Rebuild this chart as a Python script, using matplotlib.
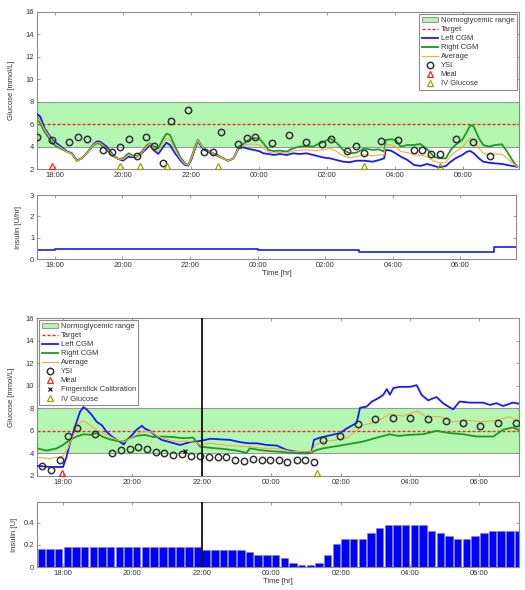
import matplotlib
matplotlib.use('Agg')
import matplotlib.pyplot as plt
import numpy as np
from matplotlib.ticker import FuncFormatter, MultipleLocator
from matplotlib.patches import Patch
from matplotlib.lines import Line2D

plt.rcParams['font.family'] = ['Liberation Sans', 'DejaVu Sans']
plt.rcParams['font.size'] = 5.5

# ---- night 1: glucose traces (hours since midnight of first day) ----
t1_cgm = [17.47, 17.56, 17.70, 17.92, 18.05, 18.34, 18.50, 18.64, 18.78, 18.93,
          19.13, 19.23, 19.32, 19.52, 19.72, 19.86, 20.00, 20.16, 20.25, 20.40,
          20.55, 20.70, 20.79, 20.89, 21.04, 21.19, 21.28, 21.38, 21.53, 21.68,
          21.82, 21.92, 22.02, 22.12, 22.20, 22.36, 22.56, 22.75, 22.95, 23.10,
          23.25, 23.40, 23.54, 23.69, 23.84, 24.00, 24.13, 24.28, 24.43, 24.62,
          24.82, 25.00, 25.20, 25.40, 25.60, 25.79, 25.94, 26.09, 26.28, 26.48,
          26.67, 26.87, 27.10, 27.34, 27.53, 27.68, 27.73, 27.88, 28.02, 28.17,
          28.37, 28.56, 28.75, 28.95, 29.15, 29.30, 29.50, 29.64, 29.78, 29.98,
          30.12, 30.22, 30.32, 30.47, 30.60, 30.76, 30.95, 31.15, 31.30, 31.45,
          31.60]
left1 = [6.9, 6.7, 5.6, 4.6, 4.3, 3.6, 3.4, 2.75, 2.95, 3.4,
         4.2, 4.45, 4.45, 4.0, 3.2, 2.9, 2.75, 3.1, 3.05, 3.1,
         3.4, 3.85, 4.2, 3.7, 3.35, 4.0, 4.35, 4.14, 3.4, 2.8,
         2.36, 2.3, 2.9, 3.8, 4.5, 3.75, 3.46, 3.3, 2.95, 2.74,
         2.95, 3.84, 3.93, 3.8, 3.7, 3.6, 3.4, 3.34, 3.25, 3.34,
         3.25, 3.4, 3.34, 3.4, 3.25, 3.1, 3.0, 2.95, 2.8, 2.65,
         2.6, 2.74, 2.74, 2.65, 2.8, 2.95, 3.7, 3.64, 3.4, 3.1,
         2.8, 2.36, 2.27, 2.45, 2.27, 2.15, 2.27, 2.65, 2.95, 3.25,
         3.55, 3.6, 3.4, 2.95, 2.65, 2.56, 2.5, 2.45, 2.36, 2.27,
         2.2]
right1 = [6.7, 6.1, 5.3, 4.3, 4.0, 3.55, 3.35, 2.7, 2.95, 3.4,
          4.1, 4.3, 4.25, 3.7, 3.1, 2.9, 2.95, 3.4, 3.25, 3.1,
          3.55, 4.1, 4.3, 4.05, 3.85, 4.75, 5.15, 5.05, 4.0, 3.1,
          2.5, 2.36, 3.1, 4.0, 4.6, 3.9, 3.55, 3.2, 2.95, 2.74,
          2.95, 4.0, 4.23, 4.6, 4.74, 4.74, 4.3, 3.7, 3.6, 3.64,
          3.55, 3.84, 4.0, 4.05, 4.0, 4.3, 4.45, 4.74, 4.35, 3.7,
          3.4, 3.46, 3.84, 3.7, 3.75, 3.55, 4.59, 4.65, 4.59, 4.0,
          4.14, 4.14, 4.23, 3.75, 3.1, 2.95, 2.95, 3.7, 4.14, 4.59,
          5.33, 5.93, 5.78, 4.74, 4.14, 4.0, 4.14, 4.2, 3.55, 2.8,
          2.2]
avg1 = [6.5, 6.3, 5.5, 4.5, 4.15, 3.55, 3.35, 2.7, 2.95, 3.4,
        4.15, 4.35, 4.35, 3.85, 3.15, 2.9, 2.85, 3.25, 3.15, 3.1,
        3.45, 4.0, 4.25, 3.9, 3.6, 4.4, 4.75, 4.6, 3.7, 2.95,
        2.43, 2.33, 3.0, 3.9, 4.55, 3.85, 3.5, 3.25, 2.95, 2.74,
        2.95, 3.92, 4.08, 4.2, 4.22, 4.17, 3.85, 3.52, 3.42, 3.49,
        3.4, 3.62, 3.67, 3.72, 3.62, 3.7, 3.72, 3.85, 3.57, 3.17,
        3.0, 3.1, 3.29, 3.17, 3.27, 3.25, 4.15, 4.15, 4.0, 3.55,
        3.47, 3.25, 3.25, 3.1, 2.69, 2.55, 2.61, 3.17, 3.55, 3.92,
        4.44, 4.76, 4.59, 3.85, 3.4, 3.28, 3.32, 3.33, 2.96, 2.54,
        2.2]
t1_ysi = [17.47, 17.92, 18.42, 18.69, 18.93, 19.40, 19.67, 19.91, 20.17, 20.41,
          20.67, 20.90, 21.17, 21.40, 21.90, 22.39, 22.64, 22.88, 23.37, 23.64,
          23.88, 24.39, 24.87, 25.37, 25.85, 26.11, 26.60, 26.85, 27.10, 27.59,
          28.09, 28.57, 28.81, 29.07, 29.32, 29.81, 30.31, 30.79]
ysi1 = [4.88, 4.59, 4.38, 4.88, 4.70, 3.72, 3.52, 3.93, 4.70, 3.16,
        4.88, 4.05, 2.54, 6.25, 7.26, 3.52, 3.52, 5.27, 4.23, 4.77,
        4.88, 4.35, 5.03, 4.38, 4.23, 4.70, 3.63, 4.05, 3.40, 4.47,
        4.56, 3.72, 3.72, 3.34, 3.34, 4.70, 4.41, 3.16]
t1_meal = [17.92]
t1_iv = [19.91, 20.49, 21.30, 22.80, 27.10, 29.32]
basal_t = [17.47, 18.0, 24.0, 27.0, 31.0, 31.65]
basal_rate = [0.4, 0.45, 0.4, 0.35, 0.55]

# ---- night 2 ----
t2_left = [17.25, 17.63, 18.00, 18.10, 18.20, 18.35, 18.49, 18.59, 18.68, 18.83,
           18.97, 19.12, 19.26, 19.41, 19.55, 19.75, 19.84, 19.98, 20.12, 20.27,
           20.36, 20.50, 20.65, 20.84, 21.08, 21.37, 21.66, 21.95, 22.24, 22.52,
           22.81, 23.10, 23.34, 23.58, 23.87, 24.16, 24.45, 24.73, 25.02, 25.16,
           25.23, 25.40, 25.69, 25.98, 26.17, 26.46, 26.56, 26.75, 26.90, 27.09,
           27.23, 27.33, 27.42, 27.52, 27.71, 28.00, 28.19, 28.33, 28.52, 28.76,
           28.95, 29.24, 29.43, 29.72, 30.10, 30.30, 30.49, 30.68, 30.96, 31.15]
left2 = [2.9, 2.8, 2.8, 3.7, 4.9, 6.4, 7.7, 8.1, 7.9, 7.4,
         6.8, 6.5, 5.9, 5.5, 5.2, 4.8, 5.2, 5.6, 6.1, 6.45,
         6.2, 6.0, 5.6, 5.2, 5.0, 4.75, 5.0, 5.1, 5.3, 5.25,
         5.2, 5.0, 4.9, 4.9, 4.75, 4.7, 4.3, 4.15, 4.1, 4.15,
         5.2, 5.4, 5.6, 5.8, 6.2, 6.7, 8.05, 8.15, 8.6, 8.9,
         9.2, 9.7, 9.2, 9.8, 9.9, 9.9, 10.05, 9.2, 8.7, 9.0,
         8.45, 7.9, 8.6, 8.5, 8.5, 8.3, 8.45, 8.2, 8.5, 8.4]
t2_right = [17.25, 17.53, 17.82, 18.00, 18.20, 18.39, 18.59, 18.78, 18.97, 19.16,
            19.35, 19.55, 19.74, 19.93, 20.12, 20.36, 20.60, 20.89, 21.18, 21.46,
            21.75, 21.95, 22.24, 22.62, 23.00, 23.29, 23.38, 23.67, 23.96, 24.25,
            24.53, 24.82, 25.11, 25.30, 25.50, 25.79, 26.08, 26.46, 26.65, 27.04,
            27.42, 27.66, 28.00, 28.38, 28.76, 29.15, 29.53, 29.92, 30.40, 30.68,
            30.96, 31.15]
right2 = [4.45, 4.25, 4.45, 4.75, 5.2, 5.5, 5.7, 5.65, 5.8, 5.45,
          5.25, 5.1, 5.05, 5.35, 5.55, 5.65, 5.45, 5.5, 5.45, 5.35,
          5.4, 4.6, 4.5, 4.4, 4.25, 4.05, 4.45, 4.3, 4.2, 4.15,
          4.05, 4.0, 4.0, 4.3, 4.45, 4.6, 4.75, 4.95, 5.05, 5.4,
          5.7, 5.55, 5.65, 5.7, 6.0, 5.8, 5.7, 5.5, 5.5, 6.1,
          6.3, 6.05]
t2_avg = [17.25, 17.63, 18.00, 18.14, 18.28, 18.47, 18.57, 18.72, 18.91, 19.10,
          19.30, 19.55, 19.79, 20.03, 20.27, 20.51, 20.75, 20.99, 21.27, 21.56,
          21.85, 21.95, 22.24, 22.62, 23.00, 23.38, 23.77, 24.16, 24.53, 24.92,
          25.16, 25.26, 25.50, 25.88, 26.17, 26.46, 26.65, 27.04, 27.42, 27.80,
          28.19, 28.48, 28.86, 29.24, 29.62, 30.10, 30.49, 30.87, 31.15]
avg2 = [3.65, 3.55, 3.75, 4.45, 5.5, 6.65, 6.9, 6.65, 6.2, 5.9,
        5.6, 5.2, 5.05, 5.5, 5.9, 5.95, 5.5, 5.25, 5.05, 5.1,
        4.95, 4.75, 4.9, 4.75, 4.65, 4.6, 4.45, 4.45, 4.2, 4.15,
        4.15, 4.75, 5.05, 5.2, 5.35, 6.0, 6.5, 6.8, 7.5, 7.3,
        7.75, 7.25, 7.25, 6.8, 6.95, 6.8, 6.95, 7.25, 6.8]
t2_ysi = [17.40, 17.64, 17.91, 18.15, 18.41, 18.91, 19.42, 19.67, 19.92, 20.16,
          20.42, 20.67, 20.92, 21.18, 21.43, 21.69, 21.95, 22.21, 22.46, 22.71,
          22.97, 23.22, 23.47, 23.72, 23.97, 24.21, 24.46, 24.73, 24.98, 25.23,
          25.49, 25.98, 26.49, 27.00, 27.51, 28.01, 28.52, 29.03, 29.53, 30.03,
          30.54, 31.04]
ysi2 = [2.92, 2.53, 3.39, 5.57, 6.28, 5.72, 4.07, 4.30, 4.42, 4.57,
        4.36, 4.13, 4.04, 3.83, 3.98, 3.77, 3.77, 3.65, 3.65, 3.71,
        3.45, 3.36, 3.54, 3.42, 3.45, 3.45, 3.27, 3.45, 3.42, 3.21,
        5.17, 5.56, 6.57, 7.07, 7.14, 7.17, 7.08, 6.90, 6.66, 6.46,
        6.69, 6.69]
t2_meal = [17.97]
t2_iv = [25.31]
t2_finger = [21.52]
finger2 = [4.2]
switch_time = 22.0
bolus_start = 17.25
bolus_step = 0.25
bolus = [0.16, 0.16, 0.16,
         0.185, 0.185, 0.185, 0.185, 0.185, 0.185, 0.185, 0.185,
         0.185, 0.185, 0.185, 0.185, 0.185, 0.185, 0.185, 0.185,
         0.155, 0.155, 0.155, 0.155, 0.155,
         0.134, 0.11, 0.11, 0.11, 0.082, 0.034, 0.015, 0.015, 0.034, 0.11,
         0.21, 0.253, 0.253, 0.253, 0.305, 0.35,
         0.38, 0.38, 0.38, 0.38, 0.38,
         0.33, 0.305, 0.28, 0.253, 0.253, 0.28, 0.305,
         0.33, 0.33, 0.33, 0.33]

GREEN_BAND = '#b3f7b3'
BLUE = '#1a1aff'
GREEN = '#1f9a1f'
ORANGE = '#ffa54a'
IVCOL = '#a0a000'
FRAME = '#8c8c8c'

W, H = 525, 590
fig = plt.figure(figsize=(W / 100, H / 100), dpi=100)


def box(l, t, r, b):
    return [l / W, 1 - b / H, (r - l) / W, (b - t) / H]


hfmt = FuncFormatter(lambda h, pos: '%02d:00' % (int(round(h)) % 24))


def style(ax, xlim):
    ax.set_xlim(*xlim)
    ax.xaxis.set_major_locator(MultipleLocator(2))
    ax.xaxis.set_major_formatter(hfmt)
    ax.tick_params(direction='in', top=True, right=True, length=2.5,
                   width=0.5, color='#777777', labelsize=5.5,
                   labelcolor='#333333', pad=2)
    for s in ax.spines.values():
        s.set_color(FRAME)
        s.set_linewidth(0.8)


def glucose(ax, xlim, tl, l, tr, r, ta, a, ty, y, tm, tiv, tf=None, fv=None):
    ax.axhspan(4, 8, facecolor=GREEN_BAND, edgecolor='#9a9a9a', lw=0.8, zorder=0)
    ax.axhline(6, color='#ff2020', ls=(0, (2.2, 1.4)), lw=1.0, zorder=1)
    ax.plot(tl, l, color=BLUE, lw=1.3, zorder=3)
    ax.plot(tr, r, color=GREEN, lw=1.3, zorder=3)
    ax.plot(ta, a, color=ORANGE, lw=0.8, zorder=4)
    ax.plot(ty, y, 'o', mfc='none', mec='#333333', mew=1.1, ms=4.6, zorder=5)
    ax.plot(tm, [2.25] * len(tm), '^', mfc='none', mec='#ff2020', mew=0.9, ms=4.5,
            zorder=5, clip_on=False)
    ax.plot(tiv, [2.25] * len(tiv), '^', mfc='none', mec=IVCOL, mew=0.9, ms=4.5,
            zorder=5, clip_on=False)
    if tf is not None:
        ax.plot(tf, fv, 'x', color='black', ms=3, mew=0.8, zorder=6)
    ax.set_ylim(2, 16)
    ax.set_yticks(range(2, 17, 2))
    ax.set_ylabel('Glucose [mmol/L]', fontsize=5.5, color='#333333', labelpad=8)
    style(ax, xlim)


def legend_handles(with_finger):
    hs = [Patch(facecolor=GREEN_BAND, edgecolor='#9a9a9a', lw=0.8),
          Line2D([], [], color='#ff2020', ls=(0, (2.2, 1.4)), lw=1.0),
          Line2D([], [], color=BLUE, lw=1.3),
          Line2D([], [], color=GREEN, lw=1.3),
          Line2D([], [], color=ORANGE, lw=0.8),
          Line2D([], [], ls='none', marker='o', mfc='none', mec='#333333', mew=1.1, ms=4.6),
          Line2D([], [], ls='none', marker='^', mfc='none', mec='#ff2020', mew=0.9, ms=4.5)]
    labels = ['Normoglycemic range', 'Target', 'Left CGM', 'Right CGM', 'Average',
              'YSI', 'Meal']
    if with_finger:
        hs.append(Line2D([], [], ls='none', marker='x', color='black', ms=3, mew=0.8))
        labels.append('Fingerstick Calibration')
    hs.append(Line2D([], [], ls='none', marker='^', mfc='none', mec=IVCOL, mew=0.9, ms=4.5))
    labels.append('IV Glucose')
    return hs, labels


def add_legend(ax, loc, with_finger):
    hs, labels = legend_handles(with_finger)
    lg = ax.legend(hs, labels, loc=loc, fontsize=5.4, fancybox=False, framealpha=1,
                   edgecolor=FRAME, labelspacing=0.24, handlelength=2.1,
                   handletextpad=0.4, borderpad=0.35, borderaxespad=0.3)
    lg.get_frame().set_linewidth(0.8)
    for t in lg.get_texts():
        t.set_color('#333333')


# night 1 glucose
xl1 = (17.47, 31.65)
ax1 = fig.add_axes(box(37, 12, 519, 169))
glucose(ax1, xl1, t1_cgm, left1, t1_cgm, right1, t1_cgm, avg1, t1_ysi, ysi1,
        t1_meal, t1_iv)
add_legend(ax1, 'upper right', False)

# night 1 insulin (basal rate)
ax2 = fig.add_axes(box(37, 195, 516, 259))
ax2.step(basal_t, basal_rate + [basal_rate[-1]], where='post', color=BLUE, lw=1.2)
ax2.set_ylim(0, 3)
ax2.set_yticks([0, 1, 2, 3])
ax2.set_ylabel('Insulin [U/hr]', fontsize=5.5, color='#333333', labelpad=6)
ax2.set_xlabel('Time [hr]', fontsize=5.5, color='#333333', labelpad=1)
style(ax2, xl1)

# night 2 glucose
xl2 = (17.25, 31.14)
ax3 = fig.add_axes(box(37, 318, 519, 476))
glucose(ax3, xl2, t2_left, left2, t2_right, right2, t2_avg, avg2, t2_ysi, ysi2,
        t2_meal, t2_iv, t2_finger, finger2)
ax3.axvline(switch_time, color='black', lw=1.2, zorder=6)
add_legend(ax3, 'upper left', True)

# night 2 insulin (15 min doses)
ax4 = fig.add_axes(box(37, 502, 519, 567))
starts = bolus_start + bolus_step * np.arange(len(bolus))
ax4.bar(starts + bolus_step / 2, bolus, width=bolus_step * 0.86, color='#0000ff',
        edgecolor='#7a7aff', lw=0.4, zorder=2)
ax4.axvline(switch_time, color='black', lw=1.2, zorder=3)
ax4.set_ylim(0, 0.59)
ax4.set_yticks([0, 0.2, 0.4])
ax4.yaxis.set_major_formatter(FuncFormatter(lambda v, p: '0' if v == 0 else '%g' % v))
ax4.set_ylabel('Insulin [U]', fontsize=5.5, color='#333333', labelpad=4)
ax4.set_xlabel('Time [hr]', fontsize=5.5, color='#333333', labelpad=1)
style(ax4, xl2)

fig.savefig('out.png', dpi=100)
